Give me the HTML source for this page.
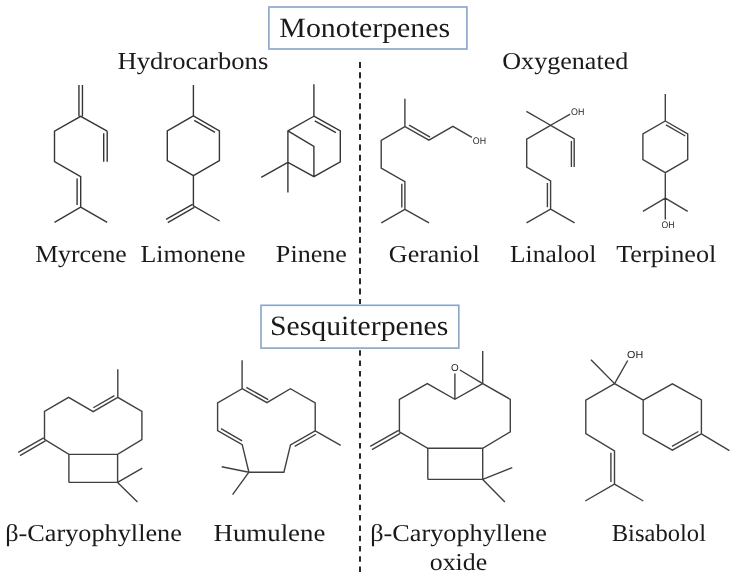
<!DOCTYPE html>
<html><head><meta charset="utf-8"><style>
html,body{margin:0;padding:0;background:#fff;width:739px;height:581px;overflow:hidden}
svg{display:block}
</style></head><body>
<svg width="739" height="581" viewBox="0 0 739 581" text-rendering="geometricPrecision" style="will-change:transform">
<rect x="268.9" y="7.0" width="198.0" height="42.0" fill="none" stroke="#88a4c6" stroke-width="1.6"/>
<rect x="261.0" y="305.3" width="197.8" height="42.8" fill="none" stroke="#88a4c6" stroke-width="1.6"/>
<path d="M360 62V304" stroke="#111" stroke-width="1.8" stroke-dasharray="6 4.3" fill="none"/>
<path d="M360 350.3V573" stroke="#111" stroke-width="1.8" stroke-dasharray="5.5 4.8" fill="none"/>
<g fill="none" stroke-width="1.4" stroke-linecap="butt" stroke-linejoin="miter">
<path d="M78.95 85.00L78.95 116.30 M82.45 85.00L82.45 116.30 M103.70 133.20L103.70 161.70 M77.10 178.60L77.10 205.10 M194.20 120.42L215.00 132.42 M192.53 204.28L166.03 219.48 M194.27 207.32L167.77 222.52 M314.76 120.81L335.92 132.67 M107.20 131.20L80.70 116.30L54.50 131.20L54.50 161.70L80.70 176.60L80.70 207.10L54.50 222.30 M80.70 207.10L107.20 222.30 M107.20 131.20L107.20 161.70 M193.40 85.10L193.40 115.80 M193.40 115.80L219.40 130.80L219.40 160.60L193.40 175.60L167.30 160.60L167.30 130.80Z M193.40 175.60L193.40 205.80L219.60 221.00 M313.90 84.30L313.90 116.20 M313.90 116.20L340.30 131.00L340.30 161.90L313.90 176.70L287.90 162.40L287.90 130.90Z M287.90 130.90L313.90 146.40L313.90 176.70 M287.90 162.40L261.20 177.40 M287.90 162.40L287.90 192.40" stroke="#363636"/>
<path d="M409.14 125.21L430.09 137.08 M401.80 183.70L401.80 207.40 M571.40 141.00L571.40 167.10 M547.40 183.00L547.40 207.20 M665.93 124.93L685.29 136.00 M114.42 395.54L93.28 407.74 M43.63 437.88L18.23 452.48 M45.37 440.92L19.97 455.52 M246.33 387.29L268.25 399.57 M242.12 440.84L220.98 428.64 M315.96 434.26L294.74 446.29 M398.53 430.28L370.23 446.48 M400.27 433.32L371.97 449.52 M698.37 431.49L671.98 446.42 M610.90 452.80L610.90 482.10 M404.90 98.80L404.90 126.60L428.90 140.20L452.90 126.40L471.90 137.30 M404.90 126.60L381.20 140.30L381.20 168.20L404.90 181.70L404.90 209.40L381.30 222.90 M404.90 209.40L429.00 222.90 M526.40 111.40L550.60 125.30L570.20 114.20 M550.60 125.30L526.70 139.10L526.70 167.20L550.60 181.00L550.60 209.20L526.50 222.90 M550.60 209.20L574.60 222.90 M550.60 125.30L574.20 139.00L574.20 167.10 M665.30 94.00L665.30 121.00 M665.30 121.00L687.70 133.80L687.70 159.60L665.30 172.60L642.90 159.60L642.90 133.80Z M665.30 172.60L665.30 198.20L642.90 211.40 M665.30 198.20L687.70 211.40 M665.30 198.20L665.30 219.60 M117.80 369.20L117.80 397.40 M117.80 397.40L93.20 411.60L68.60 397.40L44.50 411.40L44.50 439.40L68.90 454.40L117.60 454.40L141.90 439.60L141.90 411.40Z M68.90 482.40L117.60 482.40L117.60 454.40 M68.90 454.40L68.90 482.40 M117.60 482.40L142.30 468.20 M117.60 482.40L137.50 502.00 M242.10 360.30L242.10 388.70 M242.10 388.70L266.90 402.60L290.40 388.70L315.20 402.90L315.20 430.90L290.50 444.90L283.90 472.20L248.90 472.20L242.20 444.70L217.60 430.50L217.60 402.90Z M315.20 430.90L340.70 445.30 M248.90 472.20L221.70 466.70 M248.90 472.20L232.60 494.60 M482.70 351.10L482.70 383.60 M482.70 383.60L454.90 399.30L427.30 383.60L399.40 399.50L399.40 431.80L427.80 448.30L482.70 448.30L510.30 431.80L510.30 399.30Z M427.80 479.40L482.70 479.40L482.70 448.30 M427.80 448.30L427.80 479.40 M454.90 399.30L454.90 373.40 M482.70 383.60L459.90 370.00 M482.70 479.40L512.30 467.60 M482.70 479.40L504.90 502.00 M591.00 359.80L614.60 383.70L627.70 360.50 M614.60 383.70L643.20 400.20 M643.20 400.20L672.40 383.90L701.40 400.00L701.40 433.80L672.40 450.20L643.20 433.60Z M701.40 433.80L729.40 450.60 M614.60 383.70L585.80 400.20L585.80 433.60L614.50 450.80L614.50 484.10L585.20 501.00 M614.50 484.10L643.30 501.00" stroke="#404040"/>
</g>
<text x="279.38" y="37.0" font-size="28" text-anchor="start" textLength="170.74" lengthAdjust="spacingAndGlyphs" font-family='"Liberation Serif", serif' fill="#1a1a1a">Monoterpenes</text>
<text x="270.05" y="335.4" font-size="28" text-anchor="start" textLength="178.27" lengthAdjust="spacingAndGlyphs" font-family='"Liberation Serif", serif' fill="#1a1a1a">Sesquiterpenes</text>
<text x="117.48" y="68.7" font-size="24.3" text-anchor="start" textLength="150.83" lengthAdjust="spacingAndGlyphs" font-family='"Liberation Serif", serif' fill="#1a1a1a">Hydrocarbons</text>
<text x="502.29" y="68.7" font-size="24.3" text-anchor="start" textLength="126.01" lengthAdjust="spacingAndGlyphs" font-family='"Liberation Serif", serif' fill="#1a1a1a">Oxygenated</text>
<text x="35.17" y="261.9" font-size="24.3" text-anchor="start" textLength="91.66" lengthAdjust="spacingAndGlyphs" font-family='"Liberation Serif", serif' fill="#1a1a1a">Myrcene</text>
<text x="140.46" y="261.9" font-size="24.3" text-anchor="start" textLength="105.08" lengthAdjust="spacingAndGlyphs" font-family='"Liberation Serif", serif' fill="#1a1a1a">Limonene</text>
<text x="275.86" y="261.9" font-size="24.3" text-anchor="start" textLength="71.06" lengthAdjust="spacingAndGlyphs" font-family='"Liberation Serif", serif' fill="#1a1a1a">Pinene</text>
<text x="388.88" y="261.9" font-size="24.3" text-anchor="start" textLength="90.95" lengthAdjust="spacingAndGlyphs" font-family='"Liberation Serif", serif' fill="#1a1a1a">Geraniol</text>
<text x="510.08" y="261.9" font-size="24.3" text-anchor="start" textLength="86.14" lengthAdjust="spacingAndGlyphs" font-family='"Liberation Serif", serif' fill="#1a1a1a">Linalool</text>
<text x="616.18" y="261.9" font-size="24.3" text-anchor="start" textLength="100.13" lengthAdjust="spacingAndGlyphs" font-family='"Liberation Serif", serif' fill="#1a1a1a">Terpineol</text>
<text x="5.17" y="541.3" font-size="24.3" text-anchor="start" textLength="176.74" lengthAdjust="spacingAndGlyphs" font-family='"Liberation Serif", serif' fill="#1a1a1a">β-Caryophyllene</text>
<text x="213.58" y="541.0" font-size="24.3" text-anchor="start" textLength="111.75" lengthAdjust="spacingAndGlyphs" font-family='"Liberation Serif", serif' fill="#1a1a1a">Humulene</text>
<text x="370.17" y="541.3" font-size="24.3" text-anchor="start" textLength="176.74" lengthAdjust="spacingAndGlyphs" font-family='"Liberation Serif", serif' fill="#1a1a1a">β-Caryophyllene</text>
<text x="429.76" y="569.5" font-size="24.3" text-anchor="start" textLength="57.49" lengthAdjust="spacingAndGlyphs" font-family='"Liberation Serif", serif' fill="#1a1a1a">oxide</text>
<text x="611.67" y="541.0" font-size="24.3" text-anchor="start" textLength="94.37" lengthAdjust="spacingAndGlyphs" font-family='"Liberation Serif", serif' fill="#1a1a1a">Bisabolol</text>
<text x="472.8" y="143.9" font-size="9.5" text-anchor="start" textLength="13.2" lengthAdjust="spacingAndGlyphs" font-family='"Liberation Sans", sans-serif' fill="#262626">OH</text>
<text x="571.0" y="115.2" font-size="9.5" text-anchor="start" textLength="13.3" lengthAdjust="spacingAndGlyphs" font-family='"Liberation Sans", sans-serif' fill="#262626">OH</text>
<text x="661.6" y="227.6" font-size="9.5" text-anchor="start" textLength="13.0" lengthAdjust="spacingAndGlyphs" font-family='"Liberation Sans", sans-serif' fill="#262626">OH</text>
<text x="450.9" y="371.2" font-size="10" text-anchor="start" textLength="7.7" lengthAdjust="spacingAndGlyphs" font-family='"Liberation Sans", sans-serif' fill="#262626">O</text>
<text x="627.1" y="358.3" font-size="10.2" text-anchor="start" textLength="16.1" lengthAdjust="spacingAndGlyphs" font-family='"Liberation Sans", sans-serif' fill="#262626">OH</text>
</svg>
</body></html>
